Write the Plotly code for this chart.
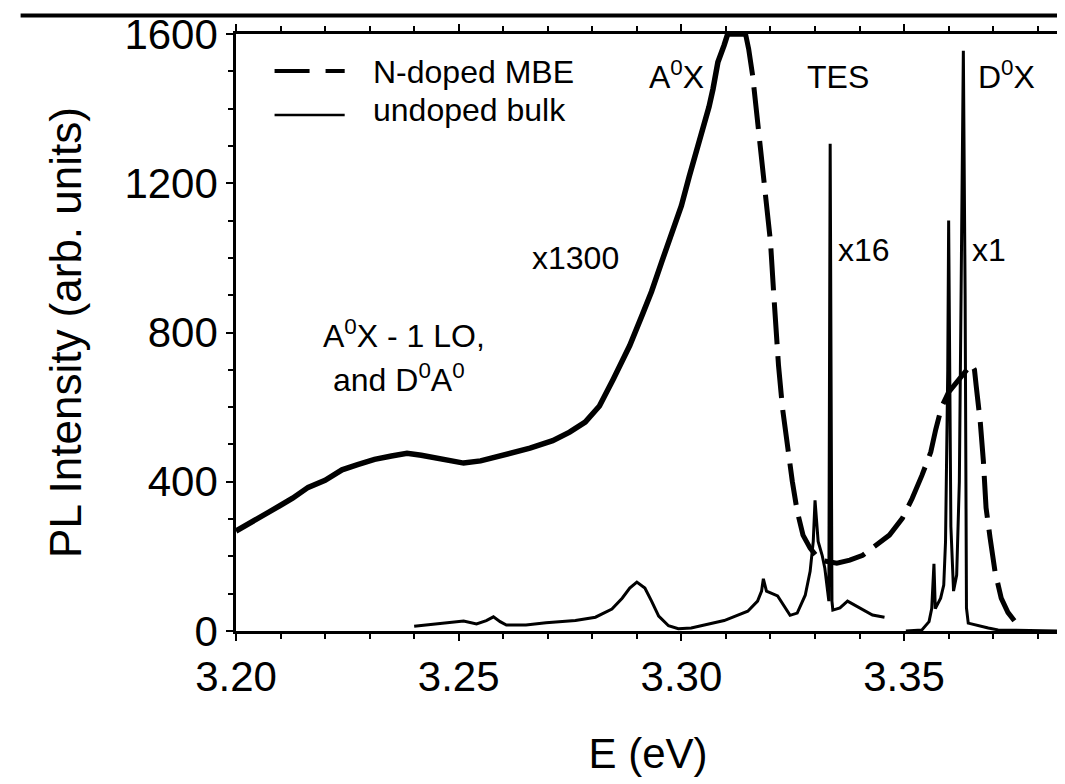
import plotly.graph_objects as go

# ---------------- data ----------------
# N-doped MBE spectrum (x1300)
mbe_energy = [3.2000, 3.2022, 3.2051, 3.2089, 3.2127, 3.2162, 3.2200, 3.2238, 3.2273, 3.2311,
              3.2349, 3.2384, 3.2416, 3.2451, 3.2482, 3.2511, 3.2549, 3.2600, 3.2660, 3.2711,
              3.2749, 3.2784, 3.2816, 3.2847, 3.2884, 3.2913, 3.2933, 3.2956, 3.2978, 3.3000,
              3.3018, 3.3038, 3.3051, 3.3062, 3.3071, 3.3082, 3.3096, 3.3104, 3.3122, 3.3144,
              3.3151, 3.3160, 3.3167, 3.3173, 3.3184, 3.3193, 3.3200, 3.3207, 3.3211, 3.3218,
              3.3227, 3.3238, 3.3249, 3.3260, 3.3273, 3.3289, 3.3311, 3.3349, 3.3378, 3.3407,
              3.3438, 3.3467, 3.3496, 3.3518, 3.3540, 3.3560, 3.3571, 3.3584, 3.3600, 3.3622,
              3.3638, 3.3651, 3.3658, 3.3662, 3.3671, 3.3678, 3.3684, 3.3693, 3.3704, 3.3718,
              3.3733, 3.3751]
mbe_intensity = [268, 284, 302, 329, 356, 385, 404, 432, 446, 460,
                 469, 476, 471, 463, 455, 450, 456, 470, 490, 510,
                 533, 560, 603, 675, 765, 850, 910, 990, 1060, 1140,
                 1220, 1300, 1364, 1405, 1453, 1525, 1570, 1600, 1600, 1600,
                 1560, 1488, 1410, 1340, 1220, 1132, 1043, 909, 835, 712,
                 597, 490, 401, 321, 257, 222, 190, 182, 190, 203,
                 230, 257, 302, 355, 417, 480, 540, 600, 640, 670,
                 696, 715, 700, 655, 560, 455, 330, 250, 160, 88,
                 50, 22]
mbe_peak_end = 3.3144  # end of the saturated A0X maximum

# undoped bulk, TES region (x16)
bulk_tes_energy = [3.2400, 3.2482, 3.2511, 3.2540, 3.2562, 3.2578, 3.2593, 3.2607, 3.2651, 3.2696,
                   3.2762, 3.2807, 3.2844, 3.2867, 3.2884, 3.2900, 3.2918, 3.2933, 3.2949, 3.2971,
                   3.2993, 3.3022, 3.3096, 3.3149, 3.3171, 3.3180, 3.3184, 3.3191, 3.3216, 3.3244,
                   3.3260, 3.3278, 3.3289, 3.3296, 3.3300, 3.3307, 3.3316, 3.3322, 3.3327, 3.3331,
                   3.3334, 3.3338, 3.3340, 3.3356, 3.3373, 3.3400, 3.3429, 3.3456]
bulk_tes_intensity = [13, 24, 27, 19, 28, 38, 25, 16, 16, 22,
                      28, 37, 59, 88, 115, 131, 115, 80, 40, 14,
                      6, 8, 28, 53, 80, 107, 140, 107, 94, 42,
                      48, 96, 160, 240, 350, 240, 203, 168, 115, 80,
                      1306, 80, 56, 62, 80, 62, 43, 37]

# undoped bulk, D0X region (x1)
bulk_dx_energy = [3.3504, 3.3540, 3.3556, 3.3562, 3.3567, 3.3570, 3.3582, 3.3589, 3.3593, 3.3598,
                  3.3600, 3.3602, 3.3605, 3.3611, 3.3618, 3.3624, 3.3629, 3.3633, 3.3637, 3.3640,
                  3.3644, 3.3660, 3.3689, 3.3711, 3.3849]
bulk_dx_intensity = [0, 3, 25, 60, 180, 60, 88, 123, 240, 700,
                     1100, 800, 280, 107, 150, 400, 1000, 1555, 900, 62,
                     21, 16, 8, 3, 0]

x_tick_vals = [3.20, 3.25, 3.30, 3.35]
x_tick_text = ["3.20", "3.25", "3.30", "3.35"]
y_tick_vals = [0, 400, 800, 1200, 1600]
y_tick_text = ["0", "400", "800", "1200", "1600"]

legend_labels = ["N-doped MBE", "undoped bulk"]

FONT = "Liberation Sans, Arial, Helvetica, sans-serif"

# split the MBE trace where the saturated peak ends (noise makes the rising side look solid)
k = mbe_energy.index(mbe_peak_end)

fig = go.Figure()
fig.add_trace(go.Scatter(x=mbe_energy[:k + 1], y=mbe_intensity[:k + 1], mode="lines",
                         line=dict(color="black", width=5.5), name=legend_labels[0],
                         showlegend=False))
fig.add_trace(go.Scatter(x=mbe_energy[k:], y=mbe_intensity[k:], mode="lines",
                         line=dict(color="black", width=5, dash="42px,12px"),
                         name=legend_labels[0], showlegend=False))
fig.add_trace(go.Scatter(x=bulk_tes_energy, y=bulk_tes_intensity, mode="lines",
                         line=dict(color="black", width=3), name=legend_labels[1],
                         showlegend=False))
fig.add_trace(go.Scatter(x=bulk_dx_energy, y=bulk_dx_intensity, mode="lines",
                         line=dict(color="black", width=3), name=legend_labels[1],
                         showlegend=False))

axis_common = dict(showline=True, linecolor="black", linewidth=2.5, mirror="ticks",
                   ticks="outside", tickcolor="black", tickwidth=2, ticklen=7,
                   showgrid=False, zeroline=False,
                   tickfont=dict(family=FONT, size=42, color="black"))

fig.update_xaxes(range=[3.2, 3.385], tickvals=x_tick_vals, ticktext=x_tick_text,
                 minor=dict(dtick=0.01, tick0=3.2, ticks="outside", ticklen=5,
                            tickwidth=2, tickcolor="black", showgrid=False),
                 title=dict(text="E (eV)", font=dict(family=FONT, size=42, color="black"),
                            standoff=40),
                 **axis_common)
fig.update_yaxes(range=[0, 1600], tickvals=y_tick_vals, ticktext=y_tick_text,
                 minor=dict(dtick=100, tick0=0, ticks="outside", ticklen=5,
                            tickwidth=2, tickcolor="black", showgrid=False),
                 title=dict(text="PL Intensity (arb. units)",
                            font=dict(family=FONT, size=44, color="black"), standoff=30),
                 **axis_common)

ann_font = dict(family=FONT, size=32, color="black")
annots = [
    ("A<sup>0</sup>X", 3.2989, 1490),
    ("TES", 3.3351, 1485),
    ("D<sup>0</sup>X", 3.3729, 1490),
    ("x1300", 3.2762, 1000),
    ("x16", 3.3411, 1020),
    ("x1", 3.3691, 1020),
    ("A<sup>0</sup>X - 1 LO,", 3.2378, 795),
    ("and D<sup>0</sup>A<sup>0</sup>", 3.2367, 677),
]
for txt, ex, iy in annots:
    fig.add_annotation(x=ex, y=iy, xref="x", yref="y", text=txt, showarrow=False,
                       font=ann_font, xanchor="center", yanchor="middle")

# hand-made legend (long dash + short dash sample, solid sample)
fig.add_shape(type="line", xref="paper", yref="paper", x0=0.0468, x1=0.1319,
              y0=0.938, y1=0.938, line=dict(color="black", width=4, dash="35px,16px,20px,200px"))
fig.add_shape(type="line", xref="paper", yref="paper", x0=0.0468, x1=0.1319,
              y0=0.8645, y1=0.8645, line=dict(color="black", width=2.5))
fig.add_annotation(x=0.1643, y=0.936, xref="paper", yref="paper", text=legend_labels[0],
                   showarrow=False, font=ann_font, xanchor="left", yanchor="middle")
fig.add_annotation(x=0.1643, y=0.873, xref="paper", yref="paper", text=legend_labels[1],
                   showarrow=False, font=ann_font, xanchor="left", yanchor="middle")

# rule line across the top of the figure
fig.add_shape(type="line", xref="paper", yref="paper", x0=-0.2614, x1=1.0036,
              y0=1.031, y1=1.031, line=dict(color="black", width=4))

fig.update_layout(width=1065, height=784, margin=dict(l=228, r=3, t=25, b=161),
                  paper_bgcolor="white", plot_bgcolor="white", showlegend=False,
                  font=dict(family=FONT, color="black"))

fig.write_html("out.html")
